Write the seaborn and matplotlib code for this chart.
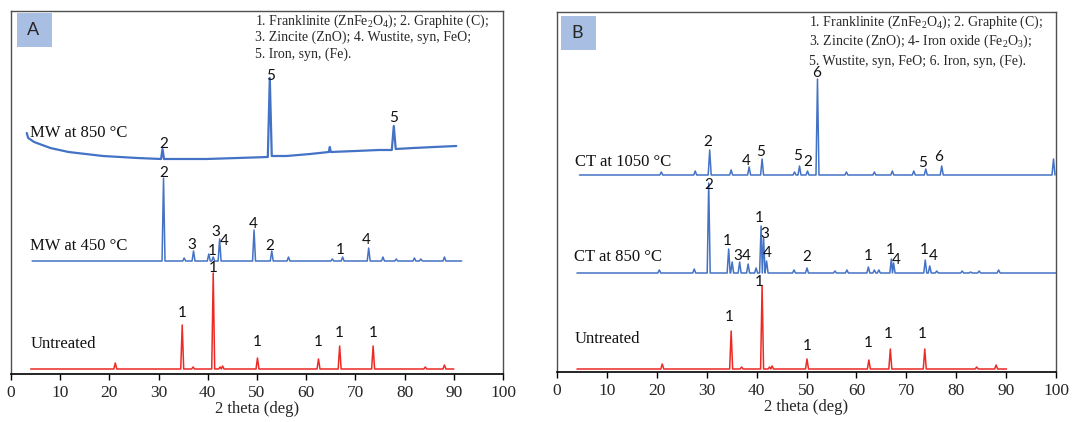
"""
XRD patterns, panel A (microwave) and panel B (conventional).
Heights are in pixels above the x axis, read off the reference figure.
"""

import numpy as np
import pandas as pd
import matplotlib
matplotlib.use("Agg")
import matplotlib.pyplot as plt
from matplotlib.patches import Rectangle
import seaborn as sns

W, H = 1072, 422
BLUE = "#4472C4"
RED = "#EE2A24"
SERIF = "Liberation Serif"
SANS = "Lato"

# ------------------------------------------------------------------
# Panel A data
# ------------------------------------------------------------------
a_untreated_base = 5
a_untreated_pos = [21.2, 34.8, 37.0, 41.1, 42.5, 43.0, 50.1, 62.5, 66.8, 73.6, 84.2, 88.1]
a_untreated_top = [11, 49, 7, 101, 7, 8, 16, 15, 28, 28, 7, 9]

a_mw450_base = 113
a_mw450_pos = [31.0, 35.2, 37.1, 40.2, 41.1, 42.4, 49.4, 53.0, 56.4, 65.3, 67.4, 72.7,
               75.6, 78.3, 82.0, 83.3, 88.1]
a_mw450_top = [196, 116, 123, 120, 117, 135, 144, 123, 117, 115, 117, 126,
               117, 115, 116, 115, 117]

# noisy, curved pattern: listed vertex by vertex
a_mw850_x = [3.2, 3.5, 4.7, 8.0, 11.7, 18.7, 25.7, 30.5, 30.8, 31.1, 39.7, 46.0, 52.2,
             52.6, 53.0, 56.0, 60.8, 64.6, 64.8, 65.0, 70.0, 74.8, 77.4, 77.8, 78.2,
             81.8, 86.0, 90.5]
a_mw850_y = [241, 236, 232, 226, 222, 218, 216, 215, 225, 215, 215, 216, 217,
             296, 218, 218, 220, 222, 227, 222, 223, 224, 224, 248, 225,
             226, 227, 228]

a_labels = [(31.0, 230, "2"), (52.8, 298, "5"), (77.8, 256, "5"),
            (31.0, 201, "2"), (36.7, 129, "3"), (40.9, 123, "1"), (41.6, 142, "3"),
            (43.4, 133, "4"), (49.3, 150, "4"), (52.5, 128, "2"), (66.9, 124, "1"),
            (72.3, 134, "4"),
            (34.8, 61, "1"), (41.1, 106, "1"), (50.1, 32, "1"), (62.5, 32, "1"),
            (66.8, 41, "1"), (73.6, 41, "1")]
a_names = [("MW at 850 °C", 3.9, 241), ("MW at 450 °C", 3.9, 128), ("Untreated", 3.9, 30)]
a_legend = [r"1. Franklinite (ZnFe$_\mathrm{2}$O$_\mathrm{4}$); 2. Graphite (C);",
            "3. Zincite (ZnO); 4. Wustite, syn, FeO;",
            "5. Iron, syn, (Fe)."]

# ------------------------------------------------------------------
# Panel B data
# ------------------------------------------------------------------
b_untreated_base = 3
b_untreated_pos = [21.1, 34.9, 37.0, 41.1, 42.6, 43.1, 50.1, 62.5, 66.8, 73.7, 84.1, 88.0]
b_untreated_top = [8, 41, 5, 86, 5, 6, 13, 12, 23, 23, 5, 7]

b_ct850_base = 99
b_ct850_pos = [20.5, 27.5, 30.4, 34.4, 35.1, 36.6, 38.3, 39.9, 40.9, 41.4, 42.0, 47.5,
               50.1, 55.7, 58.1, 62.4, 63.6, 64.5, 67.0, 67.45, 73.8, 74.7, 76.1, 81.2,
               82.9, 84.6, 88.5]
b_ct850_top = [102, 103, 189, 123, 110, 110, 108, 104, 146, 134, 111, 102,
               104, 101, 102, 105, 102, 102, 113, 109, 112, 106, 101, 101,
               100, 101, 102]

b_ct1050_base = 197
b_ct1050_pos = [20.9, 27.7, 30.6, 34.9, 38.5, 41.1, 47.6, 48.6, 50.2, 52.2, 58.0, 63.6,
                67.2, 71.5, 73.9, 77.1, 99.5]
b_ct1050_top = [200, 201, 222, 202, 205, 213, 200, 206, 201, 293, 200, 200,
                201, 201, 203, 206, 213]

b_labels = [(30.3, 230, "2"), (37.9, 211, "4"), (40.7, 220, "5"), (48.2, 216, "5"),
            (50.2, 210, "2"), (52.0, 299, "6"), (73.3, 209, "5"), (76.4, 215, "6"),
            (30.4, 187, "2"), (34.2, 131, "1"), (36.2, 116, "3"), (38.0, 116, "4"),
            (40.5, 154, "1"), (41.6, 138, "3"), (42.2, 119, "4"), (50.1, 115, "2"),
            (62.3, 116, "1"), (66.7, 122, "1"), (68.0, 112, "4"), (73.5, 122, "1"),
            (75.4, 116, "4"),
            (34.6, 55, "1"), (40.5, 90, "1"), (50.1, 26, "1"), (62.3, 29, "1"),
            (66.4, 38, "1"), (73.2, 38, "1")]
b_names = [("CT at 1050 °C", 3.6, 210), ("CT at 850 °C", 3.5, 115), ("Untreated", 3.5, 33)]
b_legend = [r"1. Franklinite (ZnFe$_\mathrm{2}$O$_\mathrm{4}$); 2. Graphite (C);",
            r"3. Zincite (ZnO); 4- Iron oxide (Fe$_\mathrm{2}$O$_\mathrm{3}$);",
            "5. Wustite, syn, FeO; 6. Iron, syn, (Fe)."]


def trace(start, stop, base, pos, top, hw=0.3):
    """Polyline: flat baseline with a narrow spike at every peak.
    Feet of neighbouring peaks never cross (kept to the midpoint)."""
    xs, ys = [start], [base]
    for i, (p, t) in enumerate(zip(pos, top)):
        left = p - hw if i == 0 else max(p - hw, (pos[i - 1] + p) / 2)
        right = p + hw if i == len(pos) - 1 else min(p + hw, (pos[i + 1] + p) / 2)
        xs += [left, p, right]
        ys += [base, t, base]
    xs.append(stop)
    ys.append(base)
    return pd.DataFrame({"theta": xs, "counts": ys})


def px(x, y):
    return x / W, 1 - y / H


sns.set_theme(style="white")
plt.rcParams["font.family"] = [SERIF, "DejaVu Serif"]
plt.rcParams["mathtext.fontset"] = "custom"
plt.rcParams["mathtext.rm"] = SERIF

fig = plt.figure(figsize=(W / 100, H / 100), dpi=100)
ax_a = fig.add_axes([11 / W, (H - 374) / H, 492 / W, 363 / H])
ax_b = fig.add_axes([557 / W, (H - 372) / H, 499 / W, 360 / H])

panel_a = [
    (pd.DataFrame({"theta": a_mw850_x, "counts": a_mw850_y}), BLUE, 1.6),
    (trace(4.3, 91.6, a_mw450_base, a_mw450_pos, a_mw450_top), BLUE, 1.1),
    (trace(4.0, 90.0, a_untreated_base, a_untreated_pos, a_untreated_top), RED, 1.1),
]
panel_b = [
    (trace(4.5, 99.8, b_ct1050_base, b_ct1050_pos, b_ct1050_top), BLUE, 1.1),
    (trace(4.0, 100.0, b_ct850_base, b_ct850_pos, b_ct850_top), BLUE, 1.1),
    (trace(4.0, 90.1, b_untreated_base, b_untreated_pos, b_untreated_top), RED, 1.1),
]

for ax, lines, labels, names, ytop in [(ax_a, panel_a, a_labels, a_names, 363),
                                       (ax_b, panel_b, b_labels, b_names, 360)]:
    for df, col, lw in lines:
        sns.lineplot(data=df, x="theta", y="counts", estimator=None, sort=False,
                     color=col, lw=lw, ax=ax)
    for x, y, s in labels:
        ax.text(x, y, s, ha="center", va="center", fontsize=11, family=SANS, color="#111111")
    for s, x, y in names:
        ax.text(x, y, s, ha="left", va="center", fontsize=12, color="#111111")

    ax.set_xlim(0, 100)
    ax.set_ylim(0, ytop)
    ax.set_xticks(np.arange(0, 101, 10))
    ax.set_yticks([])
    ax.set_ylabel("")
    ax.set_xlabel("2 theta (deg)", fontsize=12, labelpad=0)
    ax.tick_params(axis="x", direction="out", length=4, width=1, color="black",
                   labelsize=12.5, pad=4, bottom=True)
    for side in ["top", "left", "right"]:
        ax.spines[side].set_color("#505050")
        ax.spines[side].set_linewidth(1.0)
    ax.spines["bottom"].set_color("black")
    ax.spines["bottom"].set_linewidth(1.2)

# legends of phases
for i, s in enumerate(a_legend):
    fig.text(*px(255, 21 + 16.5 * i), s, ha="left", va="center", fontsize=10)
for i, s in enumerate(b_legend):
    fig.text(*px(809, 22 + 19.5 * i), s, ha="left", va="center", fontsize=10)

# panel letters
for letter, x0, y0 in [("A", 16.7, 12.7), ("B", 560.7, 15.7)]:
    fig.patches.append(Rectangle(px(x0, y0 + 34), 35 / W, 34 / H, transform=fig.transFigure,
                                 facecolor="#A8BFE3", edgecolor="none", zorder=5))
    fig.text(*px(x0 + 16, y0 + 17.5), letter, ha="center", va="center",
             fontsize=13, family=SANS, zorder=6)

fig.savefig("out.png", dpi=100)
